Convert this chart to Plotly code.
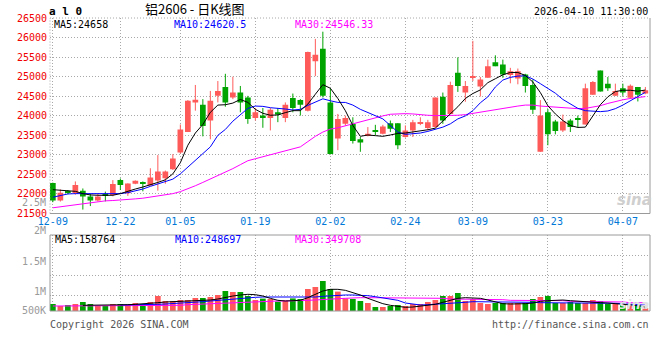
import plotly.graph_objects as go

# ---------------- data ----------------
dates = [
    "2025-12-09", "2025-12-10", "2025-12-11", "2025-12-12", "2025-12-15", "2025-12-16", "2025-12-17",
    "2025-12-18", "2025-12-19", "2025-12-22", "2025-12-23", "2025-12-24", "2025-12-25", "2025-12-26",
    "2025-12-29", "2025-12-30", "2025-12-31",
    "2026-01-05", "2026-01-06", "2026-01-07", "2026-01-08", "2026-01-09", "2026-01-12", "2026-01-13",
    "2026-01-14", "2026-01-15", "2026-01-16", "2026-01-19", "2026-01-20", "2026-01-21", "2026-01-22",
    "2026-01-23", "2026-01-26", "2026-01-27", "2026-01-28", "2026-01-29", "2026-01-30",
    "2026-02-02", "2026-02-03", "2026-02-04", "2026-02-05", "2026-02-06", "2026-02-09", "2026-02-10",
    "2026-02-11", "2026-02-12", "2026-02-13", "2026-02-24", "2026-02-25", "2026-02-26", "2026-02-27",
    "2026-03-02", "2026-03-03", "2026-03-04", "2026-03-05", "2026-03-06", "2026-03-09", "2026-03-10",
    "2026-03-11", "2026-03-12", "2026-03-13", "2026-03-16", "2026-03-17", "2026-03-18", "2026-03-19",
    "2026-03-20", "2026-03-23", "2026-03-24", "2026-03-25", "2026-03-26", "2026-03-27", "2026-03-30",
    "2026-03-31", "2026-04-01", "2026-04-02", "2026-04-03", "2026-04-07", "2026-04-08", "2026-04-09",
    "2026-04-10",
]

opens = [
    22278, 21831, 22060, 22025, 22084, 21933, 21831, 21990, 21975, 22354,
    22018, 22262, 22303, 22219, 22345, 22404, 22631, 23061, 23583, 24341,
    24282, 23878, 24509, 24737, 24467, 24593, 24467, 23945, 24004, 23945,
    24088, 23945, 24451, 24400, 24130, 25393, 25713, 24341, 23415, 23793,
    23793, 23398, 23499, 23625, 23541, 23810, 23810, 23457, 23625, 23810,
    23684, 23710, 24484, 24046, 25099, 24593, 24980, 24745, 24972, 25368,
    25309, 25040, 24955, 25056, 24787, 23078, 24088, 23852, 23625, 23878,
    23945, 23777, 24535, 25158, 24821, 24509, 24703, 24460, 24736, 24568,
]
highs = [
    22290, 22117, 22100, 22320, 22140, 22000, 22000, 22060, 22354, 22396,
    22270, 22345, 22320, 22657, 22994, 22598, 23019, 23777, 24400, 24787,
    24425, 24635, 24888, 25073, 24998, 24762, 24509, 24198, 24198, 24198,
    24198, 24341, 24568, 24425, 25640, 25966, 26150, 24703, 24046, 24004,
    23962, 23457, 23710, 23768, 23768, 23878, 23810, 23752, 23895, 23960,
    23895, 24467, 24593, 24871, 25494, 24888, 25915, 24990, 25435, 25545,
    25435, 25225, 25208, 25073, 24930, 24400, 24172, 23895, 24030, 23920,
    24004, 24821, 24888, 25158, 24990, 24821, 24821, 24800, 24736, 24736,
]
lows = [
    21790, 21806, 21990, 21980, 21600, 21690, 21810, 21810, 21940, 22102,
    21950, 22250, 22067, 22219, 22084, 22261, 22615, 23036, 23583, 24130,
    23473, 23398, 24341, 24231, 24425, 24088, 23793, 23878, 23692, 23625,
    23836, 23836, 24088, 24004, 24110, 25014, 24467, 23010, 23120, 23750,
    23288, 23078, 23473, 23499, 23524, 23583, 23145, 23440, 23457, 23760,
    23625, 23693, 23793, 24046, 24610, 24358, 24888, 24492, 24972, 25267,
    24972, 24830, 24804, 24593, 24046, 23078, 23246, 23524, 23583, 23583,
    23693, 23777, 24535, 24619, 24635, 24509, 24509, 24430, 24366, 24551,
]
closes = [
    21830, 22033, 22030, 22230, 21933, 21831, 21933, 21960, 22254, 22228,
    22270, 22340, 22261, 22421, 22573, 22573, 22909, 23650, 24383, 24408,
    23735, 24383, 24635, 24341, 24593, 24341, 23920, 24088, 23945, 24156,
    24029, 24282, 24198, 24282, 25629, 25562, 24509, 23019, 23920, 23945,
    23356, 23314, 23541, 23591, 23726, 23667, 23246, 23625, 23836, 23836,
    23836, 24467, 23878, 24787, 24762, 24762, 24997, 24930, 25267, 25267,
    25056, 25141, 25141, 24762, 24156, 24004, 23524, 23608, 23852, 23710,
    23903, 24703, 24863, 24619, 24703, 24635, 24593, 24770, 24535, 24652,
]

ma5 = [
    22109, 22101, 22084, 22067, 22008, 21975, 21966, 21966, 21966, 22008,
    22076, 22126, 22177, 22227, 22295, 22362, 22514, 22800, 23246, 23558,
    23777, 24088, 24273, 24282, 24324, 24417, 24341, 24164, 24063, 24012,
    24021, 24080, 24130, 24130, 24299, 24551, 24795, 24703, 24442, 24130,
    23751, 23474, 23508, 23491, 23474, 23508, 23549, 23558, 23583, 23625,
    23642, 23684, 23861, 24046, 24231, 24442, 24568, 24661, 24846, 24947,
    25048, 25107, 25107, 25031, 24863, 24593, 24257, 24046, 23878, 23751,
    23701, 23709, 24004, 24282, 24484, 24619, 24652, 24652, 24627, 24658,
]
ma10 = [
    21916, 21966, 22000, 22008, 22008, 22008, 22008, 22008, 22008, 22008,
    22034, 22076, 22126, 22194, 22261, 22320, 22379, 22514, 22682, 22850,
    23019, 23204, 23500, 23650, 23861, 24029, 24189, 24248, 24240, 24206,
    24198, 24172, 24147, 24164, 24265, 24358, 24433, 24383, 24341, 24341,
    24273, 24164, 24088, 24004, 23920, 23751, 23583, 23524, 23541, 23558,
    23600, 23659, 23709, 23793, 23920, 23996, 24130, 24332, 24484, 24736,
    24913, 24981, 25014, 25023, 24939, 24821, 24703, 24577, 24417, 24299,
    24189, 24130, 24113, 24105, 24122, 24181, 24273, 24374, 24492, 24600,
]
ma30 = [
    21646, 21672, 21705, 21731, 21756, 21781, 21806, 21823, 21832, 21840,
    21857, 21874, 21891, 21916, 21941, 21966, 22008, 22059, 22126, 22210,
    22295, 22379, 22463, 22547, 22648, 22749, 22850, 22901, 22951, 22994,
    23044, 23095, 23137, 23204, 23339, 23474, 23583, 23659, 23692, 23743,
    23802, 23852, 23911, 23945, 23996, 24038, 24054, 24054, 24046, 24021,
    24012, 24004, 24004, 24004, 24012, 24029, 24063, 24097, 24130, 24164,
    24198, 24223, 24248, 24273, 24273, 24248, 24231, 24215, 24206, 24189,
    24181, 24189, 24223, 24257, 24315, 24366, 24408, 24442, 24467, 24490,
]

volumes = [
    350000, 250000, 300000, 350000, 450000, 350000, 250000, 250000, 350000, 350000,
    300000, 400000, 350000, 450000, 750000, 500000, 500000, 550000, 550000, 650000,
    650000, 700000, 800000, 1000000, 950000, 950000, 750000, 550000, 620000, 600000,
    470000, 530000, 630000, 600000, 1100000, 1200000, 1500000, 1100000, 970000, 630000,
    600000, 500000, 400000, 200000, 200000, 250000, 300000, 250000, 350000, 350000,
    450000, 550000, 750000, 750000, 900000, 500000, 600000, 400000, 350000, 400000,
    400000, 400000, 400000, 400000, 600000, 700000, 750000, 400000, 400000, 450000,
    400000, 400000, 550000, 500000, 350000, 350000, 300000, 250000, 300000, 150000,
]
vol_ma5 = [
    None, None, None, None, 284000, 284000, 284000, 284000, 300000, 300000,
    316000, 334000, 350000, 366000, 416000, 450000, 466000, 484000, 500000, 516000,
    534000, 550000, 600000, 684000, 750000, 800000, 834000, 816000, 750000, 634000,
    534000, 500000, 516000, 534000, 666000, 850000, 1000000, 1084000, 1084000, 1034000,
    934000, 800000, 634000, 500000, 366000, 284000, 216000, 184000, 200000, 234000,
    266000, 334000, 434000, 534000, 634000, 666000, 666000, 634000, 550000, 450000,
    366000, 350000, 350000, 366000, 400000, 484000, 516000, 550000, 550000, 516000,
    484000, 450000, 434000, 416000, 400000, 384000, 334000, 300000, 266000, 190000,
]
vol_ma10 = [
    None, None, None, None, None, None, None, None, None, 300000,
    300000, 300000, 300000, 316000, 334000, 350000, 366000, 384000, 400000, 434000,
    466000, 500000, 534000, 584000, 616000, 650000, 666000, 684000, 700000, 700000,
    684000, 684000, 666000, 666000, 684000, 700000, 734000, 766000, 800000, 800000,
    800000, 800000, 766000, 716000, 666000, 600000, 534000, 400000, 334000, 300000,
    316000, 334000, 350000, 366000, 400000, 434000, 466000, 466000, 466000, 466000,
    466000, 466000, 450000, 434000, 434000, 416000, 416000, 416000, 416000, 416000,
    416000, 416000, 416000, 400000, 384000, 384000, 366000, 334000, 300000, 290000,
]
vol_ma30 = [
    250000, 250000, 250000, 250000, 250000, 250000, 250000, 250000, 250000, 266000,
    266000, 266000, 266000, 266000, 284000, 284000, 284000, 284000, 316000, 332000,
    366000, 384000, 400000, 416000, 434000, 434000, 450000, 466000, 484000, 500000,
    500000, 500000, 500000, 500000, 534000, 550000, 584000, 600000, 616000, 634000,
    666000, 666000, 666000, 666000, 666000, 650000, 650000, 650000, 650000, 634000,
    634000, 634000, 634000, 600000, 600000, 600000, 600000, 566000, 566000, 566000,
    566000, 534000, 534000, 534000, 534000, 516000, 516000, 516000, 516000, 484000,
    484000, 484000, 484000, 450000, 450000, 450000, 450000, 416000, 416000, 416000,
]

tick_dates = ["2025-12-09", "2025-12-22", "2026-01-05", "2026-01-19", "2026-02-02",
              "2026-02-24", "2026-03-09", "2026-03-23", "2026-04-07"]
tick_labels = ["12-09", "12-22", "01-05", "01-19", "02-02", "02-24", "03-09", "03-23", "04-07"]
price_ticks = [21500, 22000, 22500, 23000, 23500, 24000, 24500, 25000, 25500, 26000, 26500]
price_labels = ["21500", "22000", "22500", "23000", "23500", "24000", "24500", "25000",
                "25500", "26000", "26500"]
vol_grid = [770000, 1770000, 2800000]
vol_labels = ["2.5M", "2M", "1.5M", "1M", "500K"]

# ---------------- styling ----------------
RED = "#ff5a5a"
GREEN = "#00a400"
GRID = "#a8a8a8"
BORDER = "#9a9a9a"
DOT = "1px,2px"
MONO = "DejaVu Sans Mono"

W, H = 660, 360
ML, MR, MT, MB = 50, 10, 18, 49
PW, PH = W - ML - MR, H - MT - MB


def px(x):
    return (x - ML) / PW


def py(y):
    return (H - MB - y) / PH


up = [c >= o for o, c in zip(opens, closes)]
colors = [RED if u else GREEN for u in up]

fig = go.Figure()

# wicks
for flag, col in ((True, RED), (False, GREEN)):
    wx, wy = [], []
    for d, hi, lo, u in zip(dates, highs, lows, up):
        if u == flag:
            wx += [d, d, None]
            wy += [lo, hi, None]
    fig.add_trace(go.Scatter(x=wx, y=wy, mode="lines", line=dict(color=col, width=1),
                             xaxis="x", yaxis="y", hoverinfo="skip"))

# bodies
fig.add_trace(go.Bar(
    x=dates,
    y=[max(abs(c - o), 12) for o, c in zip(opens, closes)],
    base=[min(o, c) for o, c in zip(opens, closes)],
    marker=dict(color=colors, line=dict(width=0)),
    width=0.76, xaxis="x", yaxis="y"))

# moving averages (price)
for vals, col in ((ma30, "#ff00ff"), (ma10, "#0000ff"), (ma5, "#000000")):
    fig.add_trace(go.Scatter(x=dates, y=vals, mode="lines", line=dict(color=col, width=1),
                             xaxis="x", yaxis="y"))

# volume bars
fig.add_trace(go.Bar(x=dates, y=volumes, marker=dict(color=colors, line=dict(width=0)),
                     width=0.76, xaxis="x2", yaxis="y2"))
for vals, col in ((vol_ma30, "#ff00ff"), (vol_ma10, "#0000ff"), (vol_ma5, "#000000")):
    fig.add_trace(go.Scatter(x=dates, y=vals, mode="lines", line=dict(color=col, width=1),
                             xaxis="x2", yaxis="y2", connectgaps=False))

main_bottom = py(213.5)
vol_top = py(235)

axis_common = dict(showgrid=True, gridcolor=GRID, griddash=DOT, gridwidth=1,
                   zeroline=False, showline=False, ticks="")

fig.update_layout(
    width=W, height=H,
    margin=dict(l=ML, r=MR, t=MT, b=MB, pad=0),
    paper_bgcolor="white", plot_bgcolor="white",
    showlegend=False, barmode="overlay", hovermode=False,
    xaxis=dict(type="category", categoryorder="array", categoryarray=dates,
               range=[-0.38, 79.62], domain=[0, 1], anchor="y",
               tickmode="array", tickvals=tick_dates, ticktext=tick_labels,
               tickfont=dict(family=MONO, size=10, color="#0078d7"),
               ticklabelstandoff=0,
               **axis_common),
    xaxis2=dict(type="category", categoryorder="array", categoryarray=dates,
                matches="x", domain=[0, 1], anchor="y2",
                tickmode="array", tickvals=tick_dates, showticklabels=False, **axis_common),
    yaxis=dict(domain=[main_bottom, 1], range=[21500, 26500],
               tickmode="array", tickvals=price_ticks, ticktext=price_labels,
               tickfont=dict(family=MONO, size=10, color="#f00000"),
               ticklabelstandoff=2, **axis_common),
    yaxis2=dict(domain=[0, vol_top], range=[0, 3800000], tickmode="array", tickvals=vol_grid,
                showticklabels=False, **axis_common),
)

shapes = [
    # main panel frame
    dict(type="line", xref="x domain", yref="y domain", x0=0, x1=1, y0=0, y1=0,
         line=dict(color=BORDER, width=1)),
    dict(type="line", xref="x domain", yref="y domain", x0=1, x1=1, y0=0, y1=1,
         line=dict(color=BORDER, width=1)),
    dict(type="line", xref="x domain", yref="y domain", x0=0, x1=1, y0=1, y1=1,
         line=dict(color=GRID, width=1, dash=DOT)),
    dict(type="line", xref="x domain", yref="y domain", x0=0, x1=0, y0=0, y1=1,
         line=dict(color=GRID, width=1, dash=DOT)),
    # volume panel frame
    dict(type="rect", xref="x2 domain", yref="y2 domain", x0=0, x1=1, y0=0, y1=1,
         line=dict(color=BORDER, width=1)),
]
fig.update_layout(shapes=shapes)


def note(text, x, y, color="#000000", size=10, anchor="left", family=MONO):
    fig.add_annotation(text=text, x=px(x), y=py(y), xref="paper", yref="paper",
                       xanchor=anchor, yanchor="middle", showarrow=False, borderpad=0,
                       font=dict(family=family, size=size, color=color))


note("<b>a l 0</b>", 48, 12, size=11)
note("铝2606 - 日K线图", 195, 9, size=13, anchor="center", family="Noto Sans CJK SC")
note("2026-04-10 11:30:00", 649, 12, anchor="right")

note("MA5:24658", 53, 24.5)
note("MA10:24620.5", 173, 24.5, color="#0000ff")
note("MA30:24546.33", 294, 24.5, color="#ff00ff")

note("MA5:158764", 54, 239)
note("MA10:248697", 174, 239, color="#0000ff")
note("MA30:349708", 294, 239, color="#ff00ff")

for lab, yy in zip(vol_labels, [202, 231, 261, 291, 310]):
    note(lab, 47, yy, color="#9a9a9a", anchor="right")

note("Copyright 2026 SINA.COM", 49, 324, color="#555555")
note("http://finance.sina.com.cn", 650, 324, color="#555555", anchor="right")

note("<b><i>sina</i></b>", 634, 200, color="#cfcfcf", size=15, anchor="center",
     family="DejaVu Sans")
note("<b><i>sina</i></b>", 634, 304, color="#e2e2e2", size=13, anchor="center",
     family="DejaVu Sans")

fig.write_html("out.html", config={"displayModeBar": False},
               post_script="document.body.style.margin='0px';")
